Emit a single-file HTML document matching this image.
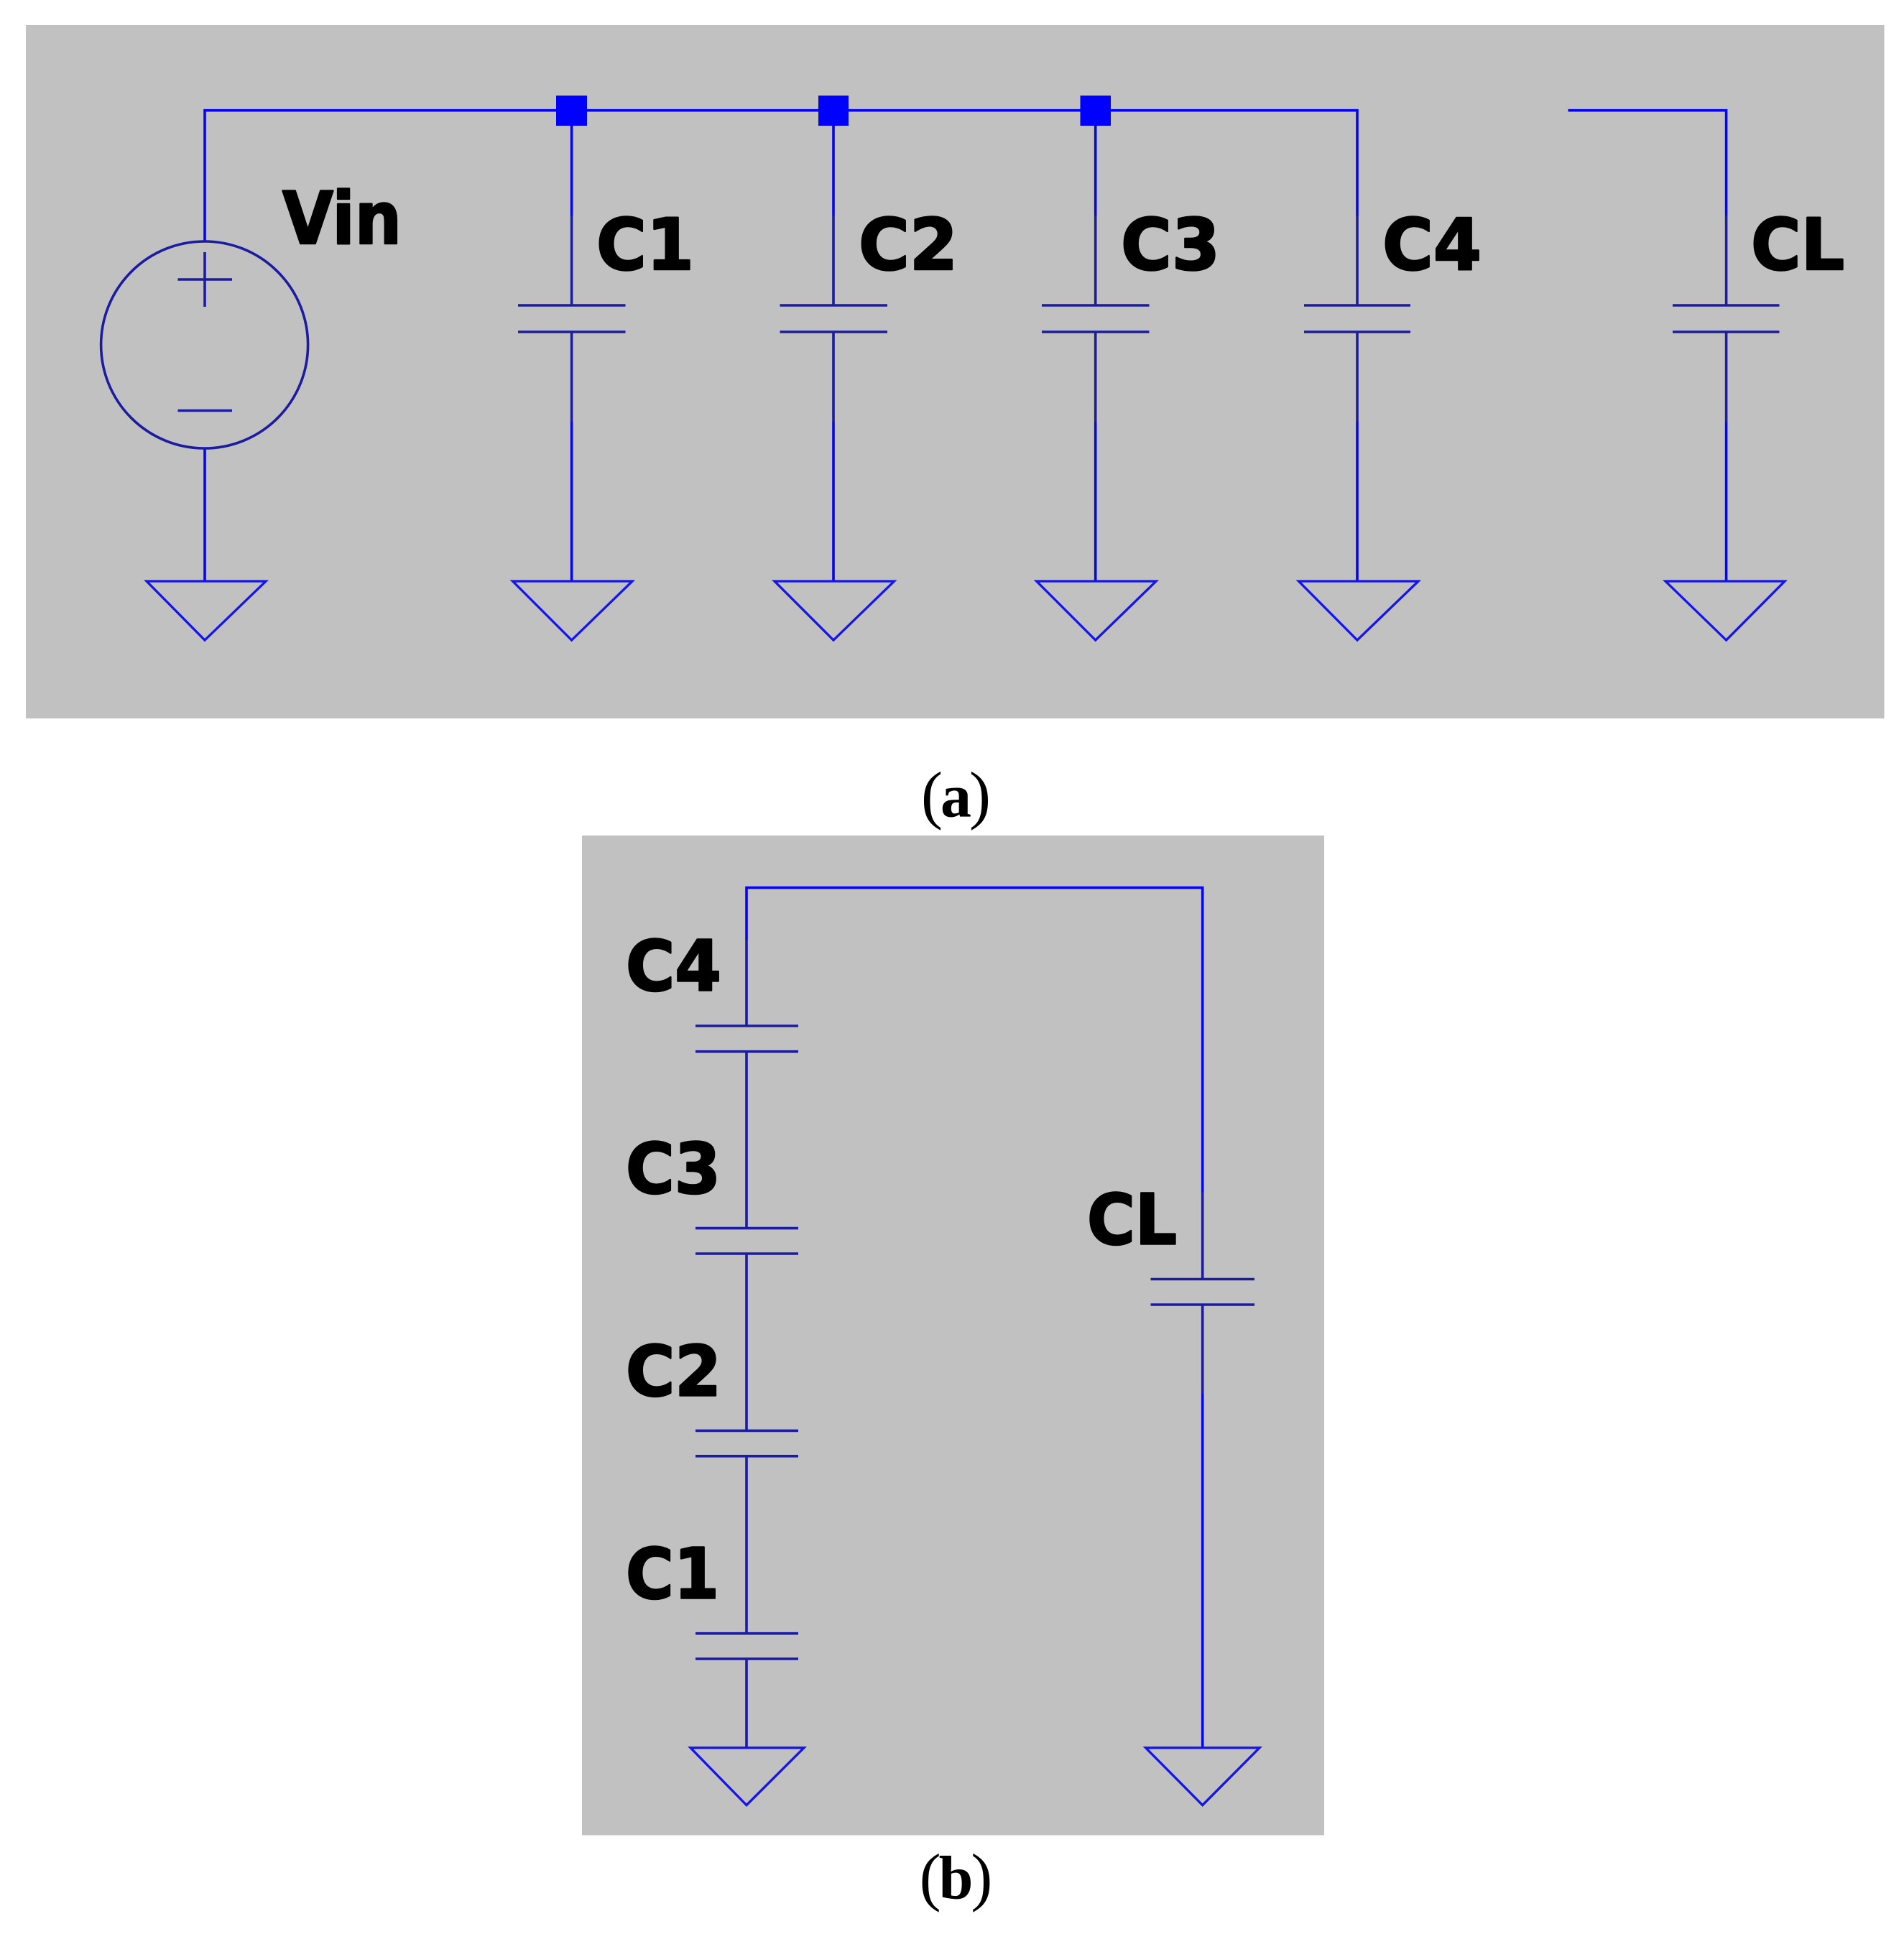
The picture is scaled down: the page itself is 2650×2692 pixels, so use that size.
<!DOCTYPE html>
<html lang="en">
<head>
<meta charset="utf-8">
<title>Capacitor circuit schematics</title>
<style>
html,body{margin:0;padding:0;background:#fff;width:2650px;height:2692px;overflow:hidden}
svg{display:block}
.b{stroke:#0505f5;stroke-width:3.6;fill:none}
.d{stroke:#1c1ca0;stroke-width:3.6;fill:none}
.g{stroke:#1414f0;stroke-width:3.3;fill:none;stroke-linejoin:miter}
.l{font-family:"DejaVu Sans","Liberation Sans",sans-serif;font-weight:700;fill:#000;stroke:#000;stroke-width:2.6;stroke-linejoin:round}
.c{font-family:"Liberation Serif",serif;font-weight:400;font-size:90px;fill:#000;text-anchor:middle;letter-spacing:-3px}
.c tspan{font-weight:700;font-size:86px}
</style>
</head>
<body>
<svg xmlns="http://www.w3.org/2000/svg" width="2650" height="2692" viewBox="0 0 2650 2692">
<rect width="2650" height="2692" fill="#fff"/>
<rect x="36" y="35" width="2586.5" height="965" fill="#c1c1c1"/>
<rect x="810" y="1163" width="1033" height="1391.5" fill="#c1c1c1"/>

<!-- Panel a wires -->
<path class="b" d="M285 336V153.7H1889V300"/>
<path class="b" d="M2182.5 153.7H2402.6V300"/>
<path class="b" d="M795.6 153.7V300M1160 153.7V300M1524.7 153.7V300"/>
<path class="b" d="M285 624V809"/>
<path class="d" d="M795.6 300V425M795.6 462V587M1160 300V425M1160 462V587M1524.7 300V425M1524.7 462V587M1889 300V425M1889 462V587M2402.6 300V425M2402.6 462V587"/>
<path class="b" d="M795.6 587V809M1160 587V809M1524.7 587V809M1889 587V809M2402.6 587V809"/>

<!-- Panel a junctions -->
<rect x="774" y="133" width="43" height="42" fill="#0000ff"/>
<rect x="1139" y="133" width="42" height="42" fill="#0000ff"/>
<rect x="1503.5" y="133" width="42.5" height="42" fill="#0000ff"/>

<!-- Panel a capacitor plates -->
<path class="d" d="M721 425H870.5M721 462H870.5M1085.5 425H1235M1085.5 462H1235M1450 425H1599.5M1450 462H1599.5M1815 425H1963M1815 462H1963M2328 425H2476.5M2328 462H2476.5"/>

<!-- Panel a source -->
<circle class="d" cx="284.6" cy="480" r="144"/>
<path class="d" d="M247.5 389H323M285 351V427M247.5 571.5H323"/>

<!-- Panel a grounds -->
<path class="g" d="M204 809H370L285 891Z"/>
<path class="g" d="M713.6 809H880L795.6 891Z"/>
<path class="g" d="M1078 809H1244.5L1160 891Z"/>
<path class="g" d="M1442.7 809H1609L1524.7 891Z"/>
<path class="g" d="M1807.5 809H1974L1889 891Z"/>
<path class="g" d="M2318 809H2484L2402.6 891Z"/>

<!-- Panel a labels -->
<text class="l" font-size="101" x="393" y="339" textLength="166" lengthAdjust="spacingAndGlyphs">Vin</text>
<text class="l" font-size="99" x="830" y="375" textLength="136" lengthAdjust="spacingAndGlyphs">C1</text>
<text class="l" font-size="99" x="1195" y="375" textLength="138" lengthAdjust="spacingAndGlyphs">C2</text>
<text class="l" font-size="99" x="1560" y="375" textLength="138" lengthAdjust="spacingAndGlyphs">C3</text>
<text class="l" font-size="99" x="1924" y="375" textLength="138" lengthAdjust="spacingAndGlyphs">C4</text>
<text class="l" font-size="99" x="2437" y="375" textLength="130" lengthAdjust="spacingAndGlyphs">CL</text>

<!-- Panel b wires -->
<path class="b" d="M1039 1308V1235.6H1673.7V1660"/>
<path class="d" d="M1039 1308V1428M1039 1463.7V1709.6M1039 1745V1991.4M1039 2026.8V2273.7M1039 2309V2433"/>
<path class="d" d="M1673.7 1660V1780.5M1673.7 1816V1940"/>
<path class="b" d="M1673.7 1940V2433"/>
<path class="d" d="M968 1428H1111M968 1463.7H1111M968 1709.6H1111M968 1745H1111M968 1991.4H1111M968 2026.8H1111M968 2273.7H1111M968 2309H1111M1601.5 1780.5H1746M1601.5 1816H1746"/>
<path class="g" d="M961 2432.8H1119L1039 2512.6Z"/>
<path class="g" d="M1594.5 2432.8H1753L1673.7 2512.6Z"/>

<!-- Panel b labels -->
<text class="l" font-size="97" x="871" y="1378.5" textLength="133" lengthAdjust="spacingAndGlyphs">C4</text>
<text class="l" font-size="97" x="871" y="1660.5" textLength="132" lengthAdjust="spacingAndGlyphs">C3</text>
<text class="l" font-size="97" x="871" y="1942.5" textLength="133" lengthAdjust="spacingAndGlyphs">C2</text>
<text class="l" font-size="97" x="871" y="2224.5" textLength="130" lengthAdjust="spacingAndGlyphs">C1</text>
<text class="l" font-size="97" x="1513" y="1731.5" textLength="125" lengthAdjust="spacingAndGlyphs">CL</text>

<!-- Captions -->
<text class="c" x="1329" y="1136.5">(<tspan>a</tspan>)</text>
<text class="c" x="1329" y="2642.5">(<tspan>b</tspan>)</text>
</svg>
</body>
</html>
